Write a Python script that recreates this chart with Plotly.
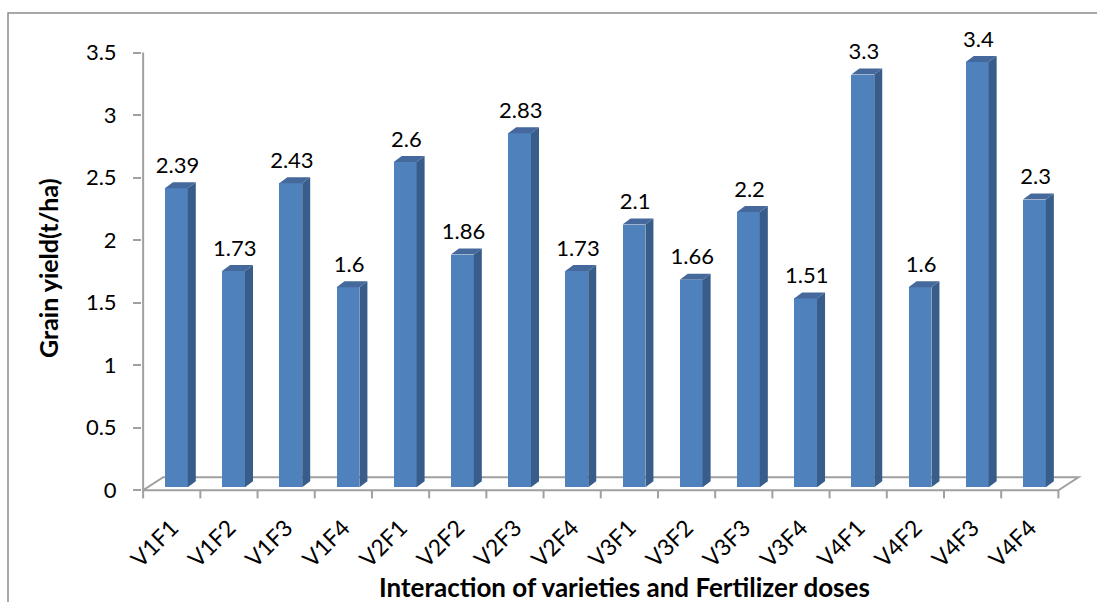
import plotly.graph_objects as go

# Grain yield for each variety x fertilizer combination
categories = ["V1F1", "V1F2", "V1F3", "V1F4",
              "V2F1", "V2F2", "V2F3", "V2F4",
              "V3F1", "V3F2", "V3F3", "V3F4",
              "V4F1", "V4F2", "V4F3", "V4F4"]
yield_t_ha = [2.39, 1.73, 2.43, 1.6,
              2.6, 1.86, 2.83, 1.73,
              2.1, 1.66, 2.2, 1.51,
              3.3, 1.6, 3.4, 2.3]
y_ticks = [0, 0.5, 1, 1.5, 2, 2.5, 3, 3.5]

# Canvas and plot-area geometry (pixels)
W, H = 1097, 602
ML, MR, MT, MB = 142, 10, 50, 103
PW, PH = W - ML - MR, H - MT - MB
X_RANGE = [-0.02, 16.5]
Y_RANGE = [-0.07, 3.52]

# Pseudo-3D look: floor depth and bar depth, in axis units
FLOOR_DX, FLOOR_DY = 0.35, 0.104
DEPTH_F = 0.23                    # bars sit this far back on the floor
BAR_W = 0.40
SIDE_DX, SIDE_DY = 0.14, 0.048

FRONT = "#4F81BD"
SIDE = "#385D8A"
TOP = "#45699C"
GRID_GREY = "#A0A0A0"
FONT = "Lato"
NUM_SIZE = 22

n = len(categories)
x_front = [i + 0.5 + DEPTH_F * FLOOR_DX for i in range(n)]
base = DEPTH_F * FLOOR_DY

fig = go.Figure()

# front faces
fig.add_trace(go.Bar(
    x=x_front, y=yield_t_ha, base=base, width=BAR_W,
    marker=dict(color=FRONT, line=dict(width=0)),
    hoverinfo="skip", showlegend=False,
))

# side and top faces as filled polygons
side_x, side_y, top_x, top_y = [], [], [], []
for xc, v in zip(x_front, yield_t_ha):
    xl, xr = xc - BAR_W / 2, xc + BAR_W / 2
    yt = base + v
    side_x += [xr, xr + SIDE_DX, xr + SIDE_DX, xr, xr, None]
    side_y += [base, base + SIDE_DY, yt + SIDE_DY, yt, base, None]
    top_x += [xl, xr, xr + SIDE_DX, xl + SIDE_DX, xl, None]
    top_y += [yt, yt, yt + SIDE_DY, yt + SIDE_DY, yt, None]

fig.add_trace(go.Scatter(x=side_x, y=side_y, mode="lines", fill="toself",
                         fillcolor=SIDE, line=dict(width=0, color=SIDE),
                         hoverinfo="skip", showlegend=False))
fig.add_trace(go.Scatter(x=top_x, y=top_y, mode="lines", fill="toself",
                         fillcolor=TOP, line=dict(width=0, color=TOP),
                         hoverinfo="skip", showlegend=False))

# value labels above each bar
fig.add_trace(go.Scatter(
    x=[xc + 0.02 for xc in x_front],
    y=[base + v + SIDE_DY + 0.03 for v in yield_t_ha],
    mode="text", text=[f"{v:g}" for v in yield_t_ha],
    textposition="top center",
    textfont=dict(family=FONT, size=NUM_SIZE, color="black"),
    cliponaxis=False, hoverinfo="skip", showlegend=False,
))

shapes = []
# floor outline
floor_path = (f"M 0,0 L {n},0 L {n + FLOOR_DX},{FLOOR_DY} "
              f"L {FLOOR_DX},{FLOOR_DY} Z")
shapes.append(dict(type="path", path=floor_path, xref="x", yref="y",
                   line=dict(color=GRID_GREY, width=2), layer="below"))
# vertical axis line
shapes.append(dict(type="line", xref="x", yref="y", x0=0, x1=0,
                   y0=0, y1=y_ticks[-1],
                   line=dict(color=GRID_GREY, width=2), layer="below"))
# category divider ticks under the floor
for k in range(n + 1):
    shapes.append(dict(type="line", xref="x", yref="y", x0=k, x1=k,
                       y0=0, y1=-0.065,
                       line=dict(color=GRID_GREY, width=2), layer="below"))
# chart frame
shapes.append(dict(type="rect", xref="paper", yref="paper",
                   x0=(8 - ML) / PW, x1=(W + 20 - ML) / PW,
                   y0=(MT + PH - (H + 20)) / PH, y1=(MT + PH - 13) / PH,
                   line=dict(color="#8C8C8C", width=1.5),
                   fillcolor="rgba(0,0,0,0)", layer="below"))

annotations = [
    dict(text="<b>Grain yield(t/ha)</b>", xref="paper", yref="paper",
         x=(48 - ML) / PW, y=(MT + PH - 268) / PH, textangle=-90,
         showarrow=False, xanchor="center", yanchor="middle",
         font=dict(family=FONT, size=25, color="black")),
    dict(text="<b>Interaction of varieties and Fertilizer doses</b>",
         xref="paper", yref="paper",
         x=(624 - ML) / PW, y=(MT + PH - 587) / PH,
         showarrow=False, xanchor="center", yanchor="middle",
         font=dict(family=FONT, size=26, color="black")),
]

fig.update_layout(
    width=W, height=H,
    margin=dict(l=ML, r=MR, t=MT, b=MB, autoexpand=False),
    paper_bgcolor="white", plot_bgcolor="white",
    shapes=shapes, annotations=annotations,
    bargap=0, showlegend=False,
    font=dict(family=FONT, color="black"),
)
fig.update_xaxes(
    range=X_RANGE, showgrid=False, zeroline=False, showline=False,
    tickmode="array", tickvals=[i + 0.5 for i in range(n)],
    ticktext=categories, tickangle=-45, ticks="",
    ticklabelstandoff=10,
    tickfont=dict(family=FONT, size=23, color="black"),
)
fig.update_yaxes(
    range=Y_RANGE, showgrid=False, zeroline=False, showline=False,
    tickmode="array", tickvals=y_ticks,
    ticktext=[f"{t:g}" for t in y_ticks],
    ticks="outside", ticklen=8, tickwidth=2, tickcolor=GRID_GREY,
    ticklabelstandoff=12,
    tickfont=dict(family=FONT, size=NUM_SIZE, color="black"),
)

fig.write_html("out.html")
